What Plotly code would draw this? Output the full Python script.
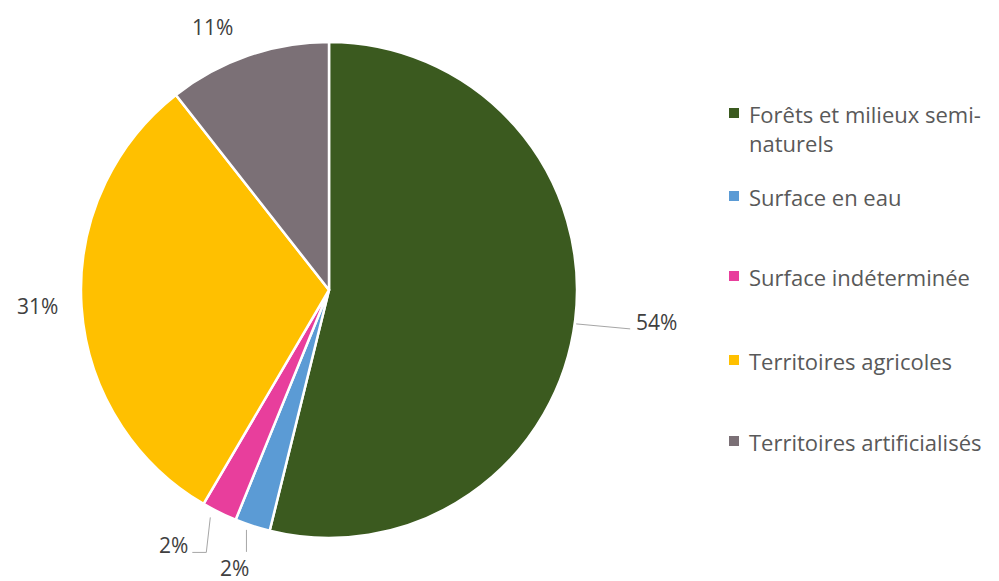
import math
import plotly.graph_objects as go

# ---- data ----
categories = [
    "Forêts et milieux semi-naturels",
    "Surface en eau",
    "Surface indéterminée",
    "Territoires agricoles",
    "Territoires artificialisés",
]
legend_labels = [
    "Forêts et milieux semi-<br>naturels",
    "Surface en eau",
    "Surface indéterminée",
    "Territoires agricoles",
    "Territoires artificialisés",
]
values = [53.9, 2.3, 2.3, 31.0, 10.6]
colors = ["#3b5a1f", "#5b9bd5", "#e83e9c", "#ffc000", "#7b7076"]

# ---- layout constants (pixels) ----
W, H = 999, 581
CX, CY, R = 329, 290, 248

def px(x):
    return x / W

def py(y):
    return 1 - y / H

fig = go.Figure()
fig.add_trace(go.Pie(
    labels=categories,
    values=values,
    marker=dict(colors=colors, line=dict(color="white", width=2.5)),
    sort=False,
    direction="clockwise",
    rotation=0,
    textinfo="none",
    hoverinfo="label+percent",
    showlegend=False,
    domain=dict(x=[px(CX - R), px(CX + R)], y=[py(CY + R), py(CY - R)]),
))

total = sum(values)
pcts = [f"{round(v / total * 100)}%" for v in values]

# outer edge point at slice mid angle
cum = 0
mids = []
for v in values:
    mid = (cum + v / 2) / total * 2 * math.pi
    mids.append(mid)
    cum += v

def edge(i, rr=R):
    a = mids[i]
    return CX + rr * math.sin(a), CY - rr * math.cos(a)

label_font = dict(family="Open Sans", size=21, color="#404040")
line_style = dict(color="#a6a6a6", width=1)

annots = []
shapes = []

# 0: Forêts -> leader line to the right
ex, ey = edge(0)
shapes.append(dict(type="line", xref="paper", yref="paper",
                   x0=px(ex + 1), y0=py(ey + 4), x1=px(ex + 55), y1=py(ey + 9), line=line_style))
annots.append(dict(x=px(ex + 59), y=py(ey + 2), text=pcts[0], xanchor="left", yanchor="middle"))

# 1: Surface en eau -> vertical leader down
ex, ey = edge(1)
shapes.append(dict(type="line", xref="paper", yref="paper",
                   x0=px(ex - 6), y0=py(ey + 4), x1=px(ex - 6), y1=py(ey + 26), line=line_style))
annots.append(dict(x=px(ex - 18), y=py(ey + 42), text=pcts[1], xanchor="center", yanchor="middle"))

# 2: Surface indéterminée -> down then left
ex, ey = edge(2)
shapes.append(dict(type="path", xref="paper", yref="paper",
                   path=f"M {px(ex - 9)},{py(ey + 5)} L {px(ex - 13)},{py(ey + 40)} L {px(ex - 27)},{py(ey + 40)}",
                   line=line_style))
annots.append(dict(x=px(ex - 29), y=py(ey + 33), text=pcts[2], xanchor="right", yanchor="middle"))

# 3: Territoires agricoles -> left
ex, ey = edge(3)
annots.append(dict(x=px(ex - 44), y=py(ey - 1), text=pcts[3], xanchor="center", yanchor="middle"))

# 4: Territoires artificialisés -> above
ex, ey = edge(4)
annots.append(dict(x=px(ex - 36), y=py(ey - 29), text=pcts[4], xanchor="center", yanchor="middle"))

for a in annots:
    a.update(xref="paper", yref="paper", showarrow=False, font=label_font)

# ---- manual legend ----
legend_x_marker = 734
legend_x_text = 747
legend_y_first = [113, 196, 276, 360, 441]
legend_font = dict(family="Open Sans", size=22, color="#595959")
for i, (lab, col) in enumerate(zip(legend_labels, colors)):
    yc = legend_y_first[i]
    shapes.append(dict(type="rect", xref="paper", yref="paper",
                       x0=px(legend_x_marker - 5), x1=px(legend_x_marker + 5),
                       y0=py(yc + 5), y1=py(yc - 5),
                       fillcolor=col, line=dict(width=0)))
    annots.append(dict(x=px(legend_x_text), y=py(yc - 16), text=lab,
                       xref="paper", yref="paper", showarrow=False,
                       xanchor="left", yanchor="top", align="left",
                       font=legend_font))

fig.update_layout(
    width=W, height=H,
    margin=dict(l=0, r=0, t=0, b=0),
    paper_bgcolor="white",
    plot_bgcolor="white",
    annotations=annots,
    shapes=shapes,
    showlegend=False,
)

fig.write_html("out.html")
